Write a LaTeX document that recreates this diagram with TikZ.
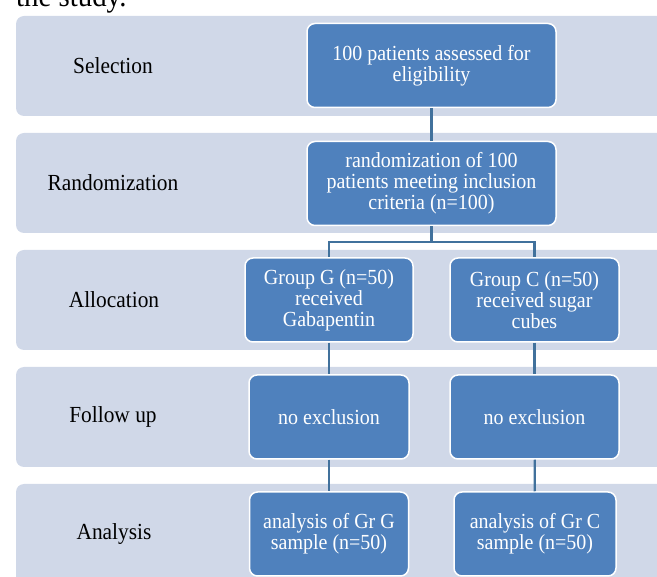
\documentclass[tikz,border=0pt]{standalone}
\usepackage{fontspec}
\setmainfont{Liberation Serif}[FakeStretch=0.93]
\definecolor{bandgray}{HTML}{D0D8E8}
\definecolor{boxblue}{HTML}{4F81BD}
\definecolor{lineblue}{HTML}{41719C}
\tikzset{
  band/.style={fill=bandgray, rounded corners=8pt},
  stage/.style={font=\fontsize{23}{25}\selectfont, text=black, inner sep=0pt},
  stepbox/.style={draw=white, line width=1.5pt, fill=boxblue, rounded corners=8pt,
    text=white, align=center, inner sep=0pt, minimum height=84pt,
    font=\fontsize{21.5}{21}\selectfont},
  link/.style={draw=lineblue, line width=2.2pt}
}

\begin{document}
\begin{tikzpicture}[x=1pt,y=-1pt]
  \clip (0,0) rectangle (657,577);
  \useasboundingbox (0,0) rectangle (657,577);

  % caption tail
  \node[anchor=base west, font=\fontsize{31}{32}\selectfont, inner sep=0pt] (cap) at (16,7) {the study.};

  % bands
  \foreach \top in {16,133,250,367,484}
    \fill[band] (16,\top) rectangle (690,\top+100);

  % stage labels
  \node[stage] (sel) at (113,66) {Selection};
  \node[stage] (rnd) at (113,183) {Randomization};
  \node[stage] (alc) at (114,300) {Allocation};
  \node[stage] (fol) at (113,417) {Follow up};
  \node[stage] (ana) at (114,534) {Analysis};

  % level 0
  \node[stepbox, minimum width=249pt] (b1) at (431.5,65.5) {100 patients assessed for\\eligibility};
  % level 1
  \node[stepbox, minimum width=249pt] (b2) at (431.5,183.5) {randomization of 100\\patients meeting inclusion\\criteria (n=100)};
  % level 2
  \node[stepbox, minimum width=168pt] (gG) at (329,300) {Group G (n=50)\\received\\Gabapentin};
  \node[stepbox, minimum width=169pt] (gC) at (534.5,300) {Group C (n=50)\\received sugar\\cubes};
  % level 3
  \node[stepbox, minimum width=160pt] (fG) at (329,417) {no exclusion};
  \node[stepbox, minimum width=169pt] (fC) at (534.5,417) {no exclusion};
  % level 4
  \node[stepbox, minimum width=159pt] (aG) at (329,534) {analysis of Gr G\\sample (n=50)};
  \node[stepbox, minimum width=162pt] (aC) at (535,534) {analysis of Gr C\\sample (n=50)};

  \coordinate (split) at (431.5,242);

  % connectors
  \draw[link] (b1) -- (b2);
  \draw[link] (b2) -- (split);
  \draw[link] (split) -| (gG);
  \draw[link] (split) -| (gC);
  \draw[link] (gG) -- (fG);
  \draw[link] (gC) -- (fC);
  \draw[link] (fG) -- (aG);
  \draw[link] (fC) -- (aC);
\end{tikzpicture}
\end{document}
